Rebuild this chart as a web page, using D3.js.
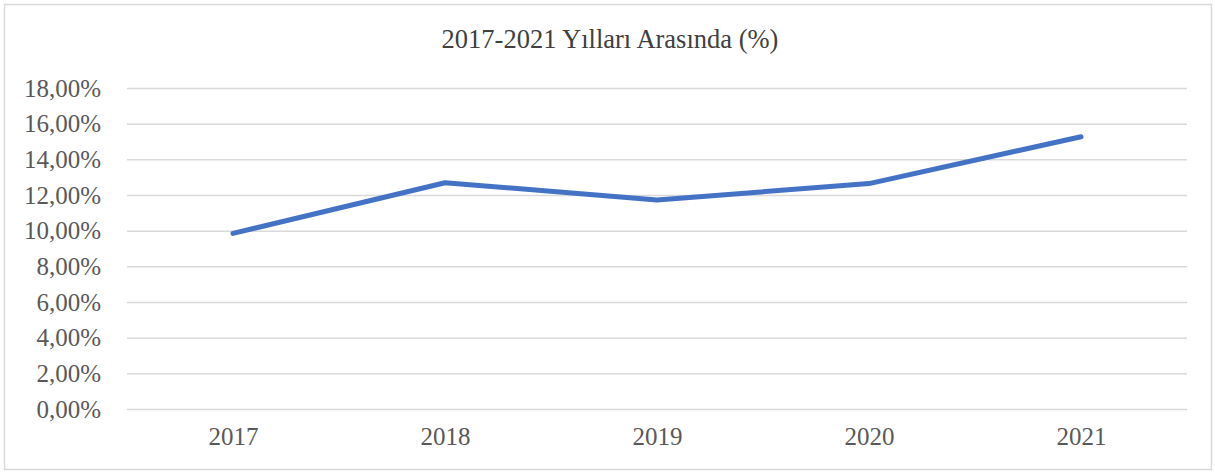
<!DOCTYPE html>
<html><head><meta charset="utf-8">
<script src="https://cdn.jsdelivr.net/npm/d3@7"></script>
<style>html,body{margin:0;padding:0;background:#fff;}svg{display:block;}</style>
</head><body>
<svg id="c" width="1215" height="473"></svg>
<script>
const title = "2017-2021 Yılları Arasında (%)";
const categories = ["2017", "2018", "2019", "2020", "2021"];
const values = [9.85, 12.69, 11.72, 12.64, 15.27];
const yTicks = [0, 2, 4, 6, 8, 10, 12, 14, 16, 18];

const svg = d3.select("#c");
const W = 1215, H = 473;
const m = {left: 127, right: 1187, top: 88, bottom: 409};
const font = "'Liberation Serif','Times New Roman',serif";

svg.append("rect").attr("x", 4.5).attr("y", 4.5).attr("width", W - 8).attr("height", H - 8)
  .attr("fill", "#fff").attr("stroke", "#d9d9d9").attr("stroke-width", 1.5);

const x = d3.scalePoint().domain(categories).range([m.left, m.right]).padding(0.5);
const y = d3.scaleLinear().domain([0, 18]).range([m.bottom, m.top]);

const fmt = v => v.toFixed(2).replace(".", ",") + "%";

const yAxis = svg.append("g").attr("transform", `translate(${m.left},0)`)
  .call(d3.axisLeft(y).tickValues(yTicks).tickFormat(fmt).tickSize(-(m.right - m.left)).tickPadding(26));
yAxis.select(".domain").remove();
yAxis.selectAll("line").attr("stroke", "#d9d9d9").attr("stroke-width", 1.5);
yAxis.selectAll("text").attr("fill", "#595959").style("font-family", font).style("font-size", "25px");

const xAxis = svg.append("g").attr("transform", `translate(0,${m.bottom})`)
  .call(d3.axisBottom(x).tickSize(0).tickPadding(18));
xAxis.select(".domain").remove();
xAxis.selectAll("text").attr("fill", "#595959").style("font-family", font).style("font-size", "25px");

const line = d3.line().x((d, i) => x(categories[i])).y(d => y(d));
svg.append("path").datum(values).attr("d", line).attr("fill", "none")
  .attr("stroke", "#4472c4").attr("stroke-width", 5).attr("stroke-linecap", "round").attr("stroke-linejoin", "round");

svg.append("text").attr("x", 610).attr("y", 48).attr("text-anchor", "middle")
  .attr("fill", "#404040").style("font-family", font).style("font-size", "26.5px").text(title);
</script>
</body></html>
